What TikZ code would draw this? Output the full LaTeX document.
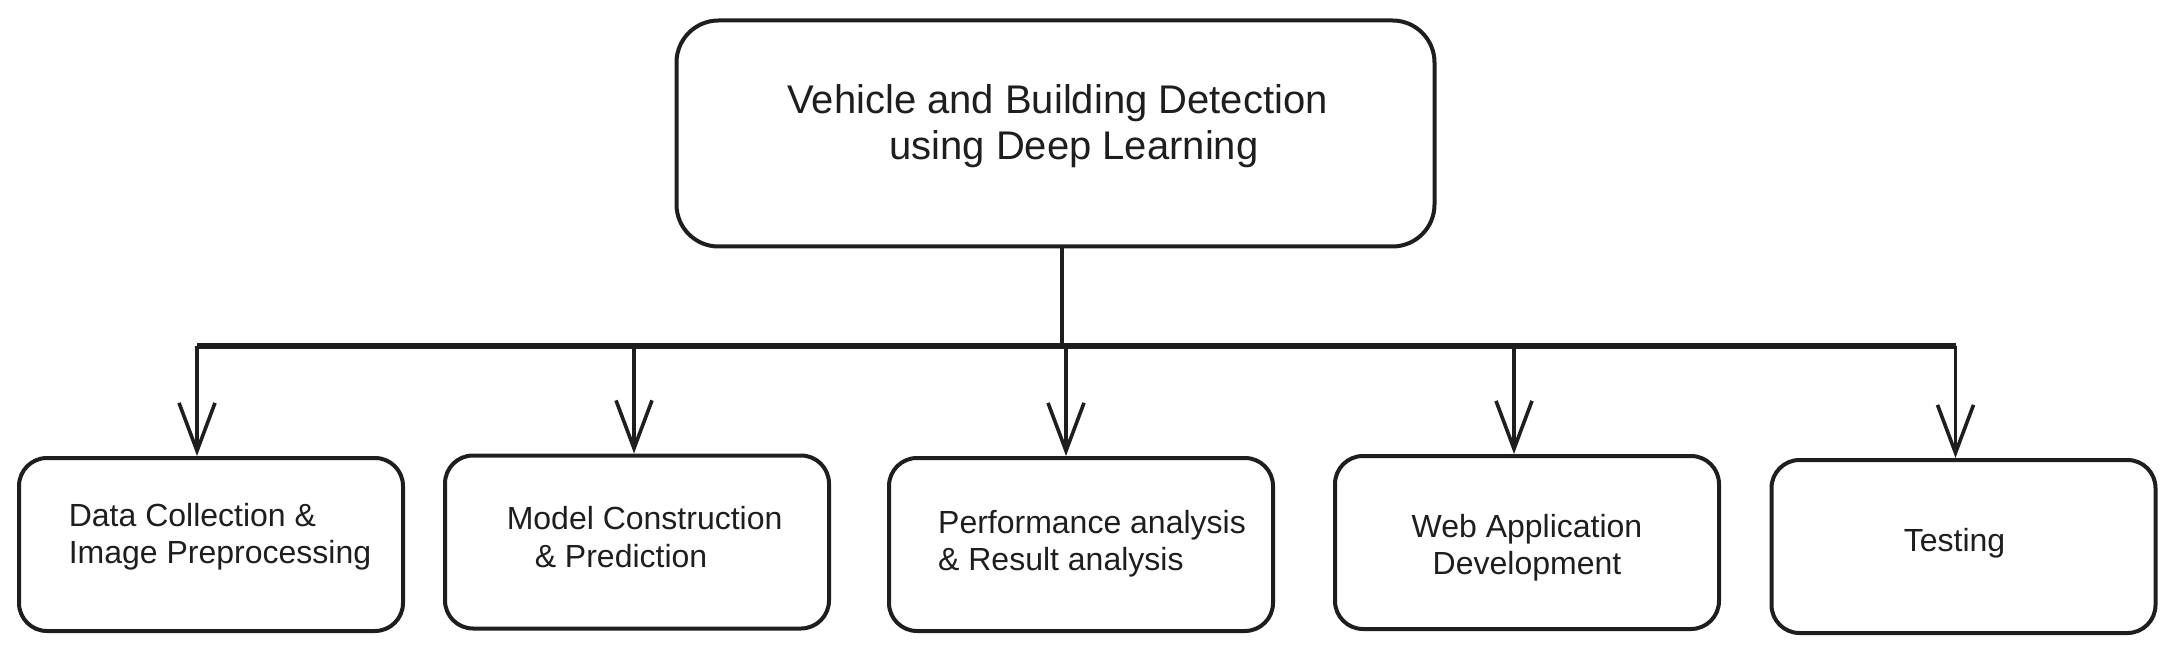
\documentclass[tikz,border=0pt]{standalone}
\usepackage{fontspec}
\setmainfont{Liberation Sans}
\usetikzlibrary{arrows.meta}
\definecolor{ink}{HTML}{1E1E1E}
\newcommand{\nudged}[4]{\raisebox{#2}[\height][\depth]{\hspace*{#1}\begin{tabular}{@{}#3@{}}#4\end{tabular}\hspace*{-#1}}}
\tikzstyle{goal}		=[rectangle, rounded corners=21pt, draw=ink, line width=2pt, text=ink, minimum width=379pt, minimum height=113pt, font=\fontsize{20}{23}\selectfont]
\tikzstyle{task}		=[rectangle, rounded corners=14pt, draw=ink, line width=2pt, text=ink, minimum width=192pt, minimum height=86.5pt, font=\fontsize{16}{18.8}\selectfont]
\tikzstyle{bus}			=[draw=ink, line width=3pt]
\tikzstyle{link}		=[draw=ink, line width=1.8pt]
\tikzstyle{post}		=[link, -{Straight Barb[length=24pt, width=18pt, line width=1.8pt]}]

\begin{document}
\begin{tikzpicture}[x=0.5pt, y=-0.5pt]
	\useasboundingbox (0, 0) rectangle (2175, 652);

	\node (Goal)		[goal]		at (1055.5, 133.5)		{\nudged{1pt}{3pt}{l}{Vehicle and Building Detection\\\hspace*{51pt}using Deep Learning}};

	\node (Data)		[task]		at (211, 544.5)		{\nudged{4.5pt}{3.5pt}{l}{Data Collection \&\\Image Preprocessing}};
	\node (Model)		[task]		at (637, 542)		{\nudged{3.8pt}{0.5pt}{l}{Model Construction\\\hspace*{14pt}\& Prediction}};
	\node (Perf)		[task]		at (1081, 544.5)		{\nudged{5.5pt}{0pt}{l}{Performance analysis\\\& Result analysis}};
	\node (Web)			[task]		at (1527, 542.5)		{\nudged{0pt}{-3pt}{c}{Web Application\\Development}};
	\node (Test)		[task]		at (1963.5, 546.5)		{\nudged{-4.5pt}{1.5pt}{c}{Testing}};

	\coordinate (Hub)			at (1062, 346);
	\coordinate (DataTap)		at (197, 346);
	\coordinate (ModelTap)		at (634, 346);
	\coordinate (PerfTap)		at (1066, 346);
	\coordinate (WebTap)		at (1514, 346);
	\coordinate (TestTap)		at (1955.5, 346);

	\draw [link]	(Goal.south -| Hub)		-- (Hub);
	\draw [bus]		(DataTap)				-- (TestTap);

	\draw [post]	(DataTap)		-- (DataTap |- Data.north);
	\draw [post]	(ModelTap)		-- (ModelTap |- Model.north);
	\draw [post]	(PerfTap)		-- (PerfTap |- Perf.north);
	\draw [post]	(WebTap)		-- (WebTap |- Web.north);
	\draw [post]	(TestTap)		-- (TestTap |- Test.north);

\end{tikzpicture}
\end{document}
